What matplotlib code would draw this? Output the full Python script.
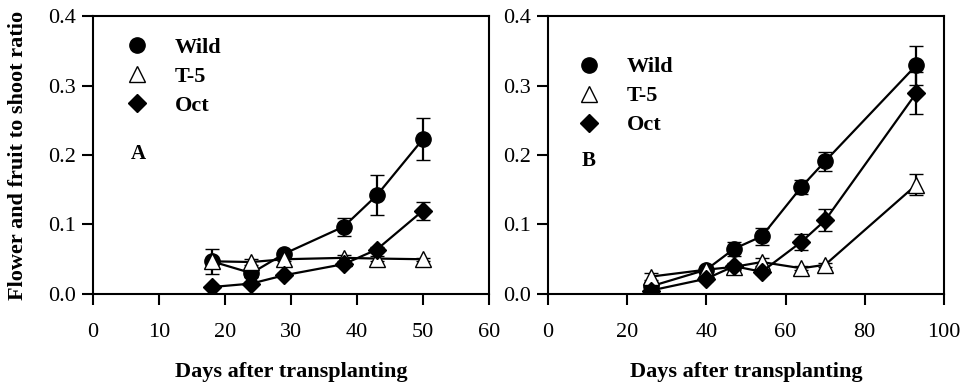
import numpy as np
import matplotlib
matplotlib.use("Agg")
import matplotlib.pyplot as plt
from matplotlib.lines import Line2D

plt.rcParams['font.family'] = ['Liberation Serif', 'DejaVu Serif']

# panel A data
days_a = [18, 24, 29, 38, 43, 50]
wild_a = [0.047, 0.030, 0.058, 0.097, 0.142, 0.223]
wild_a_err = [0.018, 0.005, 0.004, 0.013, 0.029, 0.030]
t5_a = [0.047, 0.046, 0.050, 0.052, 0.051, 0.050]
t5_a_err = [0.003, 0.004, 0.003, 0.004, 0.003, 0.002]
oct_a = [0.010, 0.015, 0.027, 0.043, 0.064, 0.120]
oct_a_err = [0.002, 0.002, 0.003, 0.003, 0.004, 0.013]

# panel B data
days_b = [26, 40, 47, 54, 64, 70, 93]
wild_b = [0.011, 0.035, 0.065, 0.083, 0.154, 0.191, 0.329]
wild_b_err = [0.004, 0.003, 0.010, 0.012, 0.010, 0.014, 0.028]
t5_b = [0.025, 0.035, 0.039, 0.046, 0.037, 0.042, 0.157]
t5_b_err = [0.005, 0.003, 0.004, 0.006, 0.003, 0.003, 0.015]
oct_b = [0.005, 0.022, 0.040, 0.032, 0.075, 0.106, 0.289]
oct_b_err = [0.002, 0.003, 0.004, 0.003, 0.012, 0.016, 0.030]

labels = ["Wild", "T-5", "Oct"]

fig = plt.figure(figsize=(9.63, 3.82), dpi=100)
axA = fig.add_axes([0.0966, 0.2304, 0.4112, 0.7277])
axB = fig.add_axes([0.569, 0.2304, 0.4112, 0.7277])

styles = [dict(marker='o', mfc='black', ms=11),
          dict(marker='^', mfc='white', ms=12),
          dict(marker='D', mfc='black', ms=9.5)]

def panel(ax, days, series, xmax, xstep, letter, leg_anchor, letter_pos):
	for (y, e), st in zip(series, styles):
		ax.errorbar(days, y, yerr=e, color='black', mec='black', lw=1.6,
			elinewidth=1.6, capsize=5, capthick=1.6, mew=1, **st)
	ax.set_xlim(0, xmax)
	ax.set_ylim(0, 0.4)
	ax.set_xticks(np.arange(0, xmax+1, xstep))
	ax.set_yticks([0.0, 0.1, 0.2, 0.3, 0.4])
	ax.set_yticklabels(["0.0", "0.1", "0.2", "0.3", "0.4"])
	for s in ax.spines.values():
		s.set_linewidth(1.5)
	ax.tick_params(direction='out', length=8, width=1.5, labelsize=16, pad=13, axis='x')
	ax.tick_params(direction='out', length=8, width=1.5, labelsize=16, pad=4, axis='y')
	ax.set_xlabel("Days after transplanting", fontsize=16, fontweight='bold', labelpad=14)
	handles = [Line2D([], [], ls='none', color='black', mec='black', **st) for st in styles]
	ax.legend(handles, labels, loc='upper left', bbox_to_anchor=leg_anchor, frameon=False,
		prop={'weight': 'bold', 'size': 16}, handletextpad=1.2, labelspacing=0.38,
		handlelength=1.0, borderaxespad=0)
	ax.text(letter_pos[0], letter_pos[1], letter, transform=ax.transAxes,
		fontsize=15, fontweight='bold', ha='left', va='center')

panel(axA, days_a, [(wild_a, wild_a_err), (t5_a, t5_a_err), (oct_a, oct_a_err)],
	60, 10, "A", (0.06, 0.955), (0.095, 0.505))
panel(axB, days_b, [(wild_b, wild_b_err), (t5_b, t5_b_err), (oct_b, oct_b_err)],
	100, 20, "B", (0.053, 0.885), (0.085, 0.48))

axA.set_ylabel("Flower and fruit to shoot ratio", fontsize=16, fontweight='bold', labelpad=15)

fig.savefig("out.png", dpi=100)
